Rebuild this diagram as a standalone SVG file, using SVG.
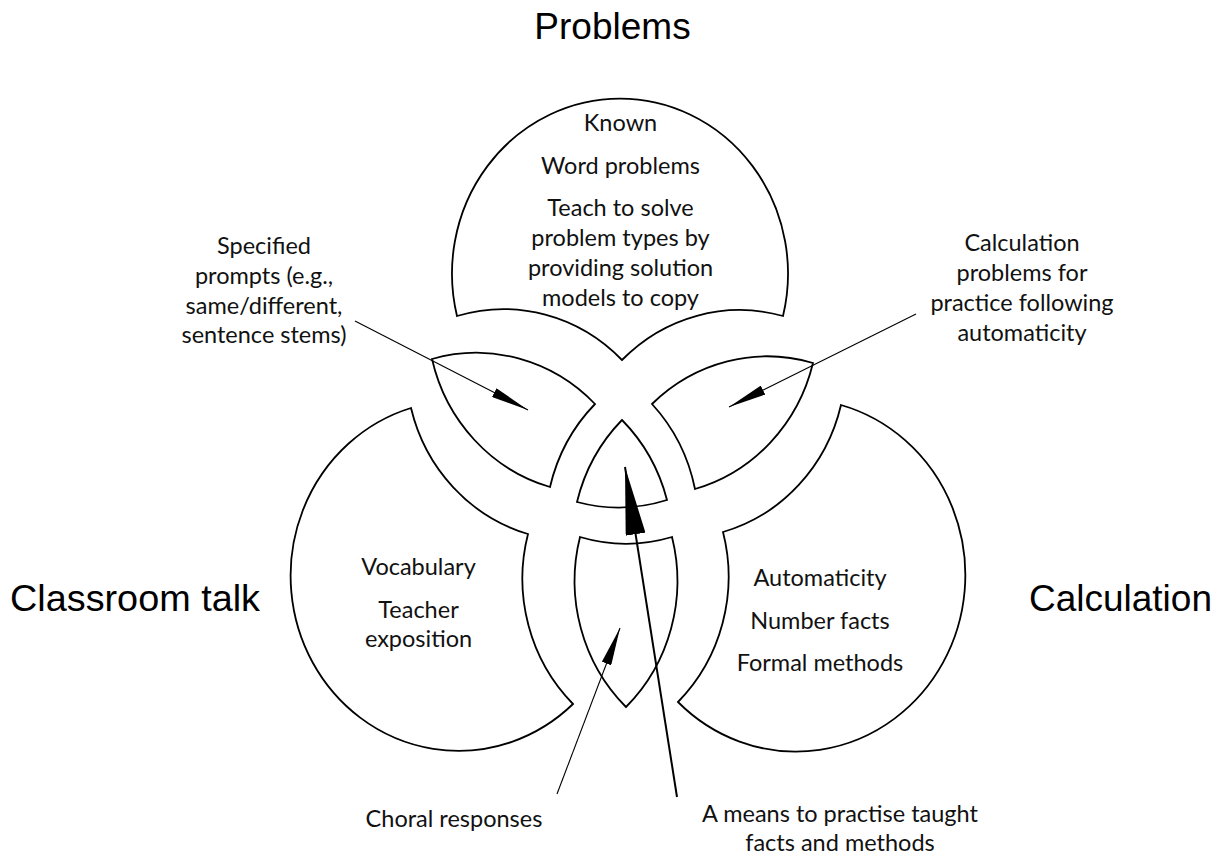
<svg xmlns="http://www.w3.org/2000/svg" width="1221" height="854" viewBox="0 0 1221 854">
<style>
.piece{fill:#fff;stroke:#000;stroke-width:1.8;stroke-linejoin:miter}
.t{font-family:Lato,"Open Sans","DejaVu Sans",sans-serif;font-size:23.5px;fill:#111;text-anchor:middle}
.title{font-family:"Liberation Sans",Arial,sans-serif;font-size:37px;fill:#000}
.thin{fill:none;stroke:#000;stroke-width:1.1;marker-end:url(#ah)}
.thick{fill:none;stroke:#000;stroke-width:2;marker-end:url(#ahBig)}
</style>
<defs>
<marker id="ah" viewBox="0 0 38 10" refX="38" refY="5" markerWidth="38" markerHeight="10" markerUnits="userSpaceOnUse" orient="auto"><path d="M0,0 L38,5 L0,10 Z" fill="#000"/></marker>
<marker id="ahBig" viewBox="0 0 68 20" refX="68" refY="10" markerWidth="68" markerHeight="20" markerUnits="userSpaceOnUse" orient="auto"><path d="M0,0 L68,10 L0,20 Z" fill="#000"/></marker>
</defs>
<rect width="1221" height="854" fill="#fff"/>

<g id="title-problems"><text class="title" x="612.5" y="39" text-anchor="middle">Problems</text></g>
<g id="title-classroom"><text class="title" x="10" y="611" textLength="250" lengthAdjust="spacingAndGlyphs">Classroom talk</text></g>
<g id="title-calculation"><text class="title" x="1212" y="611" text-anchor="end">Calculation</text></g>

<g id="node-problems">
<path class="piece" d="M457,316 A168,175 0 1 1 783,316 A168,175 0 0 0 622,360 A168,175 0 0 0 457,316 Z"/>
<text class="t" x="620.5" y="131">Known</text>
<text class="t" x="620.5" y="173.5">Word problems</text>
<text class="t" x="620.5" y="216">Teach to solve</text>
<text class="t" x="620.5" y="246">problem types by</text>
<text class="t" x="620.5" y="276">providing solution</text>
<text class="t" x="620.5" y="306">models to copy</text>
</g>

<g id="node-classroom">
<path class="piece" d="M411,408 A168,175 0 1 0 573,704 A168,175 0 0 1 528,534 A168,175 0 0 1 411,408 Z"/>
<text class="t" x="418.5" y="575">Vocabulary</text>
<text class="t" x="418.5" y="618">Teacher</text>
<text class="t" x="418.5" y="647">exposition</text>
</g>

<g id="node-calculation">
<path class="piece" d="M841,405 A169.5,176.5 0 1 1 678,702 A168,175 0 0 0 723,532 A168,175 0 0 0 841,405 Z"/>
<text class="t" x="820" y="586">Automaticity</text>
<text class="t" x="820" y="629">Number facts</text>
<text class="t" x="820" y="671">Formal methods</text>
</g>

<g id="node-problems-classroom">
<path class="piece" d="M432,359 A168,175 0 0 1 595,404 A168,175 0 0 0 550,487 A168,175 0 0 1 432,359 Z"/>
</g>

<g id="node-problems-calculation">
<path class="piece" d="M652,404 A168,175 0 0 1 813,363 A168,175 0 0 1 695,489 A168,175 0 0 0 652,404 Z"/>
</g>

<g id="node-all-three">
<path class="piece" d="M622,420 A168,175 0 0 0 577,502 A168,175 0 0 0 667,500 A168,175 0 0 0 622,420 Z"/>
</g>

<g id="node-classroom-calculation">
<path class="piece" d="M580,537 A168,175 0 0 0 672,537 A168,175 0 0 1 626,707 A168,175 0 0 1 580,537 Z"/>
</g>

<g id="label-specified">
<text class="t" x="264" y="254">Specified</text>
<text class="t" x="264" y="284">prompts (e.g.,</text>
<text class="t" x="264" y="314">same/different,</text>
<text class="t" x="264" y="343">sentence stems)</text>
</g>

<g id="label-calc-problems">
<text class="t" x="1022" y="251">Calculation</text>
<text class="t" x="1022" y="281">problems for</text>
<text class="t" x="1022" y="311">practice following</text>
<text class="t" x="1022" y="341">automaticity</text>
</g>

<g id="label-choral">
<text class="t" x="454" y="827">Choral responses</text>
</g>

<g id="label-means">
<text class="t" x="840" y="822">A means to practise taught</text>
<text class="t" x="840" y="851">facts and methods</text>
</g>

<g id="connectors">
<line class="thin" x1="355" y1="321" x2="528" y2="410"/>
<line class="thin" x1="916" y1="314" x2="729" y2="407"/>
<line class="thin" x1="557" y1="794" x2="620" y2="628"/>
<line class="thick" x1="677" y1="797" x2="625" y2="467"/>
</g>
</svg>
